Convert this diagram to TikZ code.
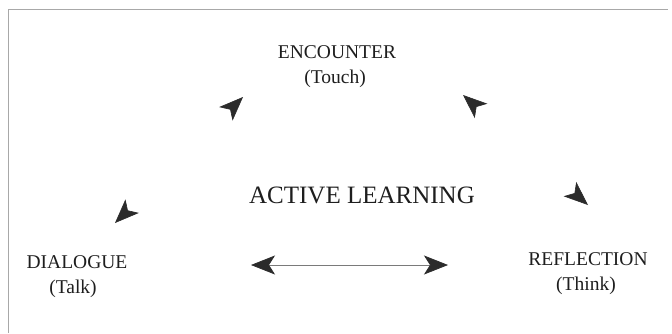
\documentclass[tikz,border=0pt]{standalone}
\usepackage{fontspec}
\setmainfont{Liberation Serif}
\usetikzlibrary{arrows.meta}
\definecolor{ink}{HTML}{1E1E1E}
\definecolor{headc}{HTML}{2B2B2B}
\definecolor{framec}{HTML}{A8A8A8}
\definecolor{shaftc}{HTML}{7A7A7A}
\begin{document}
\begin{tikzpicture}[x=1pt,y=-1pt,
  lbl/.style={font=\fontsize{19.5}{23}\selectfont, text=ink, anchor=base, inner sep=0pt},
  big/.style={font=\fontsize{25}{30}\selectfont, text=ink, anchor=base, inner sep=0pt},
  >={Stealth[length=24pt,width=19pt,inset=6pt,color=headc]},
  hiddenlink/.style={draw=white, line width=0.6pt, <->},
  shownlink/.style={draw=shaftc, line width=0.7pt, <->},
  framel/.style={draw=framec, line width=0.8pt}
]
\useasboundingbox (0,0) rectangle (672,333);
\fill[white] (0,0) rectangle (672,333);
\draw[framel] (8,333) -- (8,9) -- (668,9);

\node[lbl] (enc) at (337,58) {ENCOUNTER};
\node[lbl] (touch) at (335,83) {(Touch)};
\node[big] (al) at (362,203) {ACTIVE LEARNING};
\node[lbl] (dia) at (77,268) {DIALOGUE};
\node[lbl] (talk) at (73,293) {(Talk)};
\node[lbl] (ref) at (588,265) {REFLECTION};
\node[lbl] (think) at (586,290) {(Think)};

\coordinate (dTip) at (115,223);
\coordinate (eTipL) at (243,97);
\coordinate (eTipR) at (463,95);
\coordinate (rTip) at (588,205);
\coordinate (dTipB) at (251,265);
\coordinate (rTipB) at (448,265);

\draw[hiddenlink] (dTip) -- (eTipL);
\draw[hiddenlink] (eTipR) -- (rTip);
\draw[shownlink] (dTipB) -- (rTipB);
\end{tikzpicture}
\end{document}
